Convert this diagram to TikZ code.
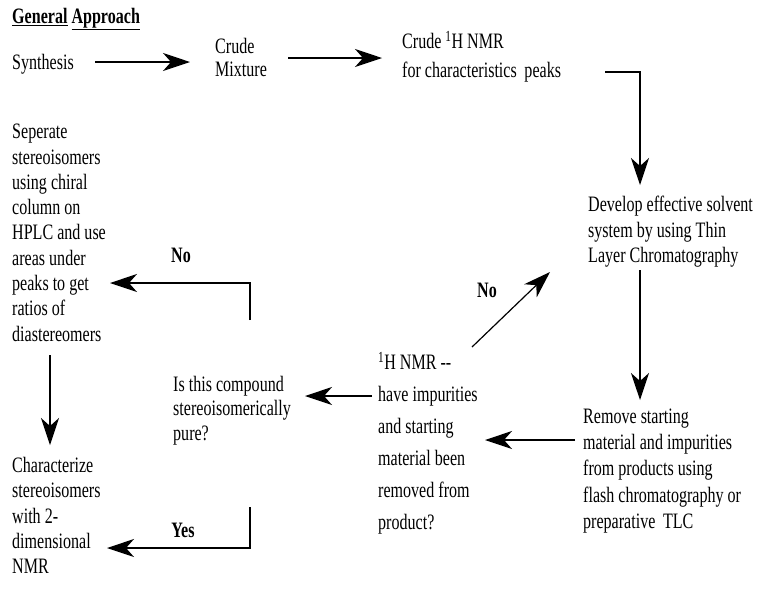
\documentclass[tikz,border=0pt]{standalone}
\usepackage{fontspec}
\setmainfont{Liberation Serif}[FakeStretch=0.73]
\usetikzlibrary{arrows.meta}
\begin{document}
\begin{tikzpicture}[x=1pt,y=-1pt,
  arr/.style={line width=1.2pt, -{Stealth[length=27pt,width=18pt,inset=8pt]}},
  txt/.style={anchor=north west, inner sep=0pt, align=left},
  lbl/.style={inner sep=0pt, font=\fontsize{22}{25}\selectfont\bfseries}]
\useasboundingbox (0,0) rectangle (757,590);
% text blocks
\node[txt, font=\fontsize{22}{25}\selectfont\bfseries] (gen) at (12,8) {\underline{General} \underline{Approach}};
\node[txt, font=\fontsize{22}{25}\selectfont] (syn) at (12,54) {Synthesis};
\node[txt, font=\fontsize{22}{23}\selectfont] (cmix) at (215,38) {Crude\\Mixture};
\node[txt, font=\fontsize{22}{29}\selectfont] (cnmr) at (402,31) {Crude \textsuperscript{1}H NMR\\for characteristics\, peaks};
\node[txt, font=\fontsize{22}{25.5}\selectfont] (dev) at (588,196) {Develop effective solvent\\system by using Thin\\Layer Chromatography};
\node[txt, font=\fontsize{22}{26.3}\selectfont] (rem) at (583,408.5) {Remove starting\\material and impurities\\from products using\\flash chromatography or\\preparative\, TLC};
\node[txt, font=\fontsize{22}{32}\selectfont] (hn) at (378,352) {\textsuperscript{1}H NMR -{}-\\have impurities\\and starting\\material been\\removed from\\product?};
\node[txt, font=\fontsize{22}{24.5}\selectfont] (isc) at (173,376) {Is this compound\\stereoisomerically\\pure?};
\node[txt, font=\fontsize{22}{25.3}\selectfont] (sep) at (12,124) {Seperate\\stereoisomers\\using chiral\\column on\\HPLC and use\\areas under\\peaks to get\\ratios of\\diastereomers};
\node[txt, font=\fontsize{22}{25.3}\selectfont] (chr) at (12,457) {Characterize\\stereoisomers\\with 2-\\dimensional\\NMR};
% labels
\node[lbl] (no1) at (181,255) {No};
\node[lbl] (no2) at (487,290) {No};
\node[lbl] (yes) at (183,530) {Yes};
% connector ends
\coordinate (a1s) at (95,62);   \coordinate (a1e) at (190,62);
\coordinate (a2s) at (288,58);  \coordinate (a2e) at (382,58);
\coordinate (a3s) at (605,72);  \coordinate (a3b) at (640,72);  \coordinate (a3e) at (640,185);
\coordinate (a4s) at (640,270); \coordinate (a4e) at (640,400);
\coordinate (a5s) at (575,440); \coordinate (a5e) at (485,440);
\coordinate (a6s) at (472,347); \coordinate (a6e) at (550,272);
\coordinate (a7s) at (372,396); \coordinate (a7e) at (305,396);
\coordinate (a8s) at (250,320); \coordinate (a8b) at (250,283); \coordinate (a8e) at (110,283);
\coordinate (a9s) at (50,355);  \coordinate (a9e) at (50,445);
\coordinate (a10s) at (250,507); \coordinate (a10b) at (250,548); \coordinate (a10e) at (107,548);
% connectors
\draw[arr] (a1s) -- (a1e);
\draw[arr] (a2s) -- (a2e);
\draw[arr] (a3s) -- (a3b) -- (a3e);
\draw[arr] (a4s) -- (a4e);
\draw[arr] (a5s) -- (a5e);
\draw[arr] (a6s) -- (a6e);
\draw[arr] (a7s) -- (a7e);
\draw[arr] (a8s) -- (a8b) -- (a8e);
\draw[arr] (a9s) -- (a9e);
\draw[arr] (a10s) -- (a10b) -- (a10e);
\end{tikzpicture}
\end{document}
